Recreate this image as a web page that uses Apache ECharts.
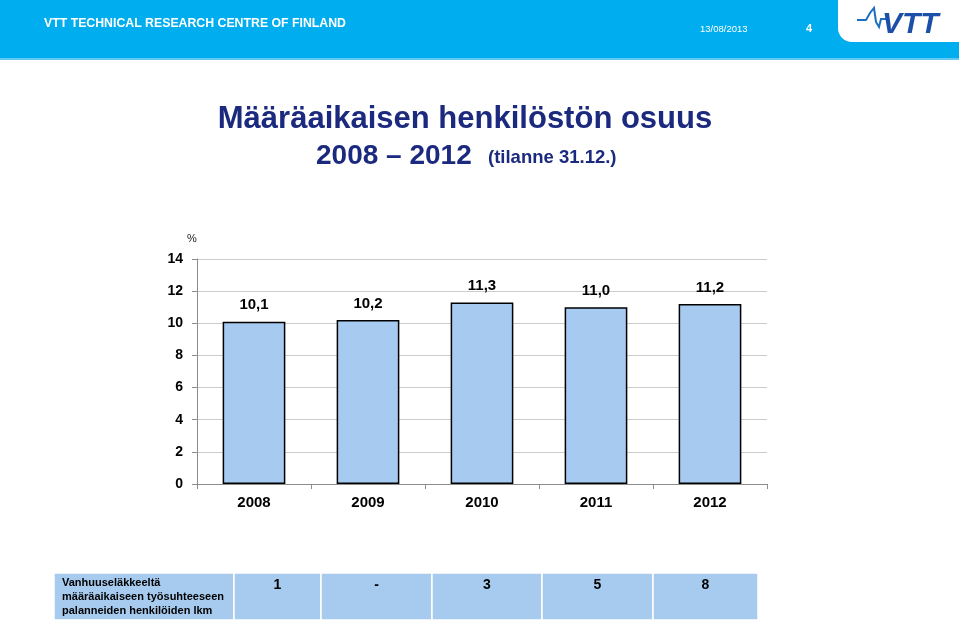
<!DOCTYPE html>
<html><head><meta charset="utf-8">
<script src="https://cdn.jsdelivr.net/npm/echarts@6/dist/echarts.min.js"></script>
<style>html,body{margin:0;padding:0;background:#fff}#c{width:959px;height:624px}</style>
</head><body><div id="c"></div>
<script>
const categories = ['2008','2009','2010','2011','2012'];
const shareValues = [10.1, 10.2, 11.3, 11.0, 11.2];
const yTicks = [0, 2, 4, 6, 8, 10, 12, 14];
const tableLabel = ['Vanhuuseläkkeeltä', 'määräaikaiseen työsuhteeseen', 'palanneiden henkilöiden lkm'];
const tableValues = ['1', '-', '3', '5', '8'];

const chart = echarts.init(document.getElementById('c'), null, {renderer:'canvas'});
const FONT = '"Liberation Sans", Arial, sans-serif';
const navy = '#1B2A7E';
const cellBlue = '#A7CBEF';

// table geometry
const tableTop = 573, tableBottom = 620;
const cellEdges = [54, 234, 321, 432, 542, 653, 758];
const graphics = [
  {type:'rect', shape:{x:0,y:0,width:959,height:58}, style:{fill:'#00AEEF'}, silent:true},
  {type:'rect', shape:{x:0,y:58,width:959,height:2}, style:{fill:'#62C8F2'}, silent:true},
  {type:'rect', shape:{x:838,y:-10,width:140,height:52,r:[0,0,0,14]}, style:{fill:'#ffffff'}, silent:true},
  {type:'text', x:44, y:18, style:{text:'VTT TECHNICAL RESEARCH CENTRE OF FINLAND', fill:'#fff', font:'bold 12.3px '+FONT}},
  {type:'text', x:700, y:24, style:{text:'13/08/2013', fill:'#fff', font:'9.5px '+FONT}},
  {type:'text', x:806, y:23, style:{text:'4', fill:'#fff', font:'bold 11px '+FONT}},
  // logo
  {type:'polyline', shape:{points:[[857,20],[866,20],[870,13],[874,8],[876,22],[879,27],[881,19],[886,19]]}, style:{stroke:'#1D6FC2', lineWidth:2, fill:null}, silent:true},
  {type:'text', x:882, y:10, style:{text:'VTT', fill:'#1B4FA8', font:'italic 900 30px '+FONT}},
  // title
  {type:'text', x:465, y:104, style:{text:'Määräaikaisen henkilöstön osuus', fill:navy, font:'bold 31px '+FONT, textAlign:'center'}},
  {type:'text', x:316, y:142, style:{text:'2008 – 2012', fill:navy, font:'bold 28px '+FONT}},
  {type:'text', x:488, y:148, style:{text:'(tilanne 31.12.)', fill:navy, font:'bold 18.5px '+FONT}},
  {type:'text', x:187, y:233, style:{text:'%', fill:'#222', font:'11px '+FONT}}
];
for (let i = 0; i < cellEdges.length - 1; i++) {
  graphics.push({type:'rect', shape:{x:cellEdges[i], y:tableTop, width:cellEdges[i+1]-cellEdges[i], height:tableBottom-tableTop}, style:{fill:cellBlue, stroke:'#fff', lineWidth:1.5}, silent:true});
}
graphics.push({type:'text', x:62, y:576, style:{text:tableLabel.join('\n'), fill:'#000', font:'bold 11px '+FONT, lineHeight:14}});
tableValues.forEach((v, i) => {
  graphics.push({type:'text', x:(cellEdges[i+1]+cellEdges[i+2])/2, y:578, style:{text:v, fill:'#000', font:'bold 14px '+FONT, textAlign:'center'}});
});

chart.setOption({
  animation:false,
  backgroundColor:'#fff',
  grid:{left:197, right:192, top:259, bottom:140, containLabel:false},
  xAxis:{
    type:'category', data:categories, boundaryGap:true,
    axisLine:{lineStyle:{color:'#8C8C8C', width:1}},
    axisTick:{show:true, alignWithLabel:false, length:5, lineStyle:{color:'#8C8C8C'}},
    axisLabel:{color:'#000', fontFamily:FONT, fontWeight:'bold', fontSize:15, margin:11}
  },
  yAxis:{
    type:'value', min:yTicks[0], max:yTicks[yTicks.length-1], interval:2,
    axisLine:{show:true, lineStyle:{color:'#8C8C8C'}},
    axisTick:{show:true, length:5, lineStyle:{color:'#8C8C8C'}},
    axisLabel:{color:'#000', fontFamily:FONT, fontWeight:'bold', fontSize:14, margin:14},
    splitLine:{show:true, lineStyle:{color:'#CCCCCC', width:1}}
  },
  series:[{
    type:'bar', data:shareValues, barWidth:'55%',
    itemStyle:{color:'#A6CAF0', borderColor:'#000', borderWidth:1.5},
    label:{show:true, position:'top', distance:9, color:'#000', fontFamily:FONT, fontWeight:'bold', fontSize:15,
      formatter:p => p.value.toFixed(1).replace('.', ',')}
  }],
  graphic:graphics
});
</script></body></html>
